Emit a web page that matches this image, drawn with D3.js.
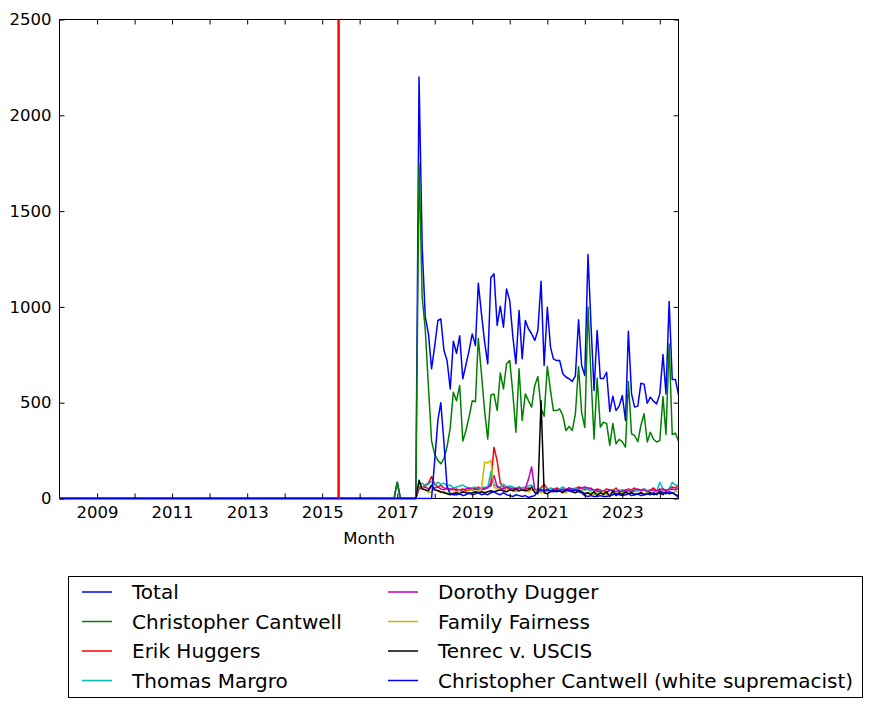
<!DOCTYPE html>
<html>
<head>
<meta charset="utf-8">
<script src="https://cdn.jsdelivr.net/npm/d3@7"></script>
<style>
  body { margin: 0; background: #fff; }
  text { font-family: "DejaVu Sans", sans-serif; fill: #000; }
</style>
</head>
<body>
<svg id="chart" width="873" height="708"></svg>
<script>
// monthly counts, Dec 2016 .. Jul 2024 (every series is 0 from Jan 2008 up to Nov 2016)
var months = d3.timeMonth.range(new Date(2016, 11, 1), new Date(2024, 7, 1));
var flatStart = new Date(2008, 0, 1);
var markerDate = new Date(2015, 5, 10);

var total = [0, 85, 0, 0, 0, 0, 0, 0,
  2200, 1310, 946, 859, 677, 798, 929, 938, 772, 720,
  572, 821, 758, 849, 625, 699, 772, 859, 798, 1124,
  964, 819, 703, 1152, 1173, 903, 1004, 894, 1094, 1033,
  842, 703, 981, 729, 929, 886, 860, 825, 877, 1134,
  694, 998, 790, 729, 720, 720, 651, 634, 625, 611,
  640, 933, 694, 642, 1273, 920, 564, 877, 626, 626,
  659, 454, 534, 459, 482, 538, 407, 873, 546, 477,
  482, 602, 597, 497, 529, 508, 494, 546, 751, 546,
  1028, 621, 621, 541];

var cantwell = [0, 85, 0, 0, 0, 0, 0, 0,
  1750, 1050, 880, 580, 300, 230, 198, 181, 210, 270,
  370, 555, 510, 590, 300, 355, 425, 510, 505, 835,
  650, 460, 310, 540, 545, 460, 655, 572, 703, 720,
  546, 346, 677, 407, 546, 511, 477, 590, 637, 470,
  430, 690, 564, 459, 459, 468, 433, 355, 376, 355,
  440, 688, 450, 370, 1000, 650, 311, 628, 372, 398,
  392, 277, 392, 285, 309, 296, 268, 610, 338, 329,
  296, 381, 442, 295, 346, 309, 295, 302, 532, 334,
  807, 334, 341, 299];

var huggers = [0, 0, 0, 0, 0, 0, 0, 0,
  60, 55, 70, 80, 115, 75, 60, 70, 55, 50,
  45, 55, 40, 45, 50, 40, 45, 55, 50, 60,
  45, 50, 55, 80, 268, 195, 80, 60, 55, 50,
  55, 50, 60, 45, 50, 55, 45, 40, 50, 55,
  75, 50, 40, 45, 55, 50, 40, 45, 55, 45,
  50, 60, 55, 45, 50, 55, 40, 50, 45, 35,
  50, 45, 40, 55, 35, 45, 40, 50, 45, 55,
  40, 45, 50, 40, 45, 55, 40, 50, 45, 40,
  50, 60, 55, 70];

var margro = [0, 0, 0, 0, 0, 0, 0, 0,
  70, 80, 65, 75, 90, 70, 85, 75, 80, 65,
  70, 55, 60, 65, 70, 60, 55, 55, 60, 50,
  55, 60, 55, 140, 70, 65, 60, 75, 60, 65,
  60, 55, 60, 55, 60, 65, 70, 50, 45, 50,
  40, 45, 55, 50, 45, 50, 60, 50, 45, 50,
  55, 45, 40, 55, 45, 40, 45, 35, 40, 30,
  35, 40, 45, 35, 45, 40, 30, 45, 40, 35,
  45, 40, 50, 40, 45, 40, 35, 85, 50, 45,
  50, 85, 70, 65];

var dugger = [0, 0, 0, 0, 0, 0, 0, 0,
  50, 55, 60, 50, 65, 55, 60, 50, 45, 55,
  50, 45, 50, 40, 45, 50, 55, 45, 50, 45,
  55, 50, 60, 65, 120, 60, 55, 50, 60, 55,
  50, 45, 55, 45, 50, 100, 165, 45, 40, 35,
  40, 45, 40, 50, 45, 40, 50, 45, 55, 50,
  45, 50, 55, 60, 55, 50, 45, 40, 35, 40,
  30, 45, 40, 35, 40, 35, 45, 40, 35, 45,
  50, 40, 45, 35, 40, 45, 40, 45, 50, 40,
  45, 50, 45, 55];

var fairness = [0, 0, 0, 0, 0, 0, 0, 0,
  80, 60, 45, 30, 35, 50, 40, 30, 35, 30,
  25, 30, 35, 40, 30, 35, 40, 45, 35, 40,
  50, 190, 185, 200, 60, 50, 45, 40, 50, 45,
  40, 35, 40, 45, 40, 35, 45, 40, 35, 30,
  40, 35, 40, 35, 45, 40, 35, 30, 40, 35,
  30, 40, 35, 25, 30, 35, 20, 30, 25, 35,
  20, 25, 30, 20, 25, 30, 20, 25, 30, 25,
  20, 30, 25, 30, 20, 25, 30, 25, 35, 30,
  25, 30, 35, 40];

var tenrec = [0, 0, 0, 0, 0, 0, 0, 0,
  95, 50, 45, 40, 70, 45, 40, 35, 30, 25,
  20, 25, 30, 25, 35, 30, 25, 30, 35, 30,
  35, 30, 35, 40, 35, 40, 45, 40, 35, 45,
  40, 50, 40, 45, 40, 45, 60, 30, 25, 510,
  30, 25, 35, 40, 35, 40, 30, 45, 40, 35,
  30, 40, 35, 25, 30, 20, 35, 15, 30, 20,
  35, 10, 40, 15, 30, 20, 35, 25, 30, 20,
  25, 30, 20, 25, 30, 20, 25, 30, 20, 35,
  25, 30, 20, 15];

var cantwellWS = [0, 0, 0, 0, 0, 0, 0, 0,
  0, 0, 0, 0, 0, 200, 410, 500, 290, 60,
  25, 20, 20, 25, 15, 20, 30, 20, 25, 30,
  20, 25, 20, 30, 35, 25, 20, 30, 20, 15,
  10, 20, 15, 10, 15, 5, 10, 15, 40, 45,
  40, 45, 40, 35, 45, 40, 35, 40, 45, 40,
  45, 35, 30, 15, 10, 15, 10, 10, 15, 10,
  10, 15, 20, 25, 20, 15, 20, 25, 15, 20,
  25, 15, 20, 25, 20, 30, 20, 40, 30, 25,
  35, 30, 20, 5];

var names = ["Total", "Christopher Cantwell", "Erik Huggers", "Thomas Margro",
  "Dorothy Dugger", "Family Fairness", "Tenrec v. USCIS",
  "Christopher Cantwell (white supremacist)"];
var colors = ["#0000ff", "#008000", "#ff0000", "#00bfbf", "#bf00bf", "#bfbf00", "#000000", "#0000ff"];
var yTicks = [0, 500, 1000, 1500, 2000, 2500];

var series = [total, cantwell, huggers, margro, dugger, fairness, tenrec, cantwellWS].map(function (vals, i) {
  var pts = [{date: flatStart, v: 0}].concat(vals.map(function (v, j) { return {date: months[j], v: v}; }));
  return {name: names[i], color: colors[i], points: pts};
});

var plotL = 59.5, plotR = 678.5, plotT = 19.5, plotB = 498.5;
var svg = d3.select("#chart");

var x = d3.scaleTime().domain([flatStart, months[months.length - 1]]).range([plotL, plotR]);
var y = d3.scaleLinear().domain([0, 2500]).range([plotB, plotT]);

// frame first, so the data lines sit on top of the spines
svg.append("rect")
  .attr("x", plotL).attr("y", plotT).attr("width", plotR - plotL).attr("height", plotB - plotT)
  .attr("fill", "none").attr("stroke", "#000").attr("stroke-width", 1);

svg.append("defs").append("clipPath").attr("id", "clip")
  .append("rect").attr("x", plotL).attr("y", plotT - 1).attr("width", plotR - plotL).attr("height", plotB - plotT + 2);

var line = d3.line().x(function (d) { return x(d.date); }).y(function (d) { return y(d.v); });

var plot = svg.append("g").attr("clip-path", "url(#clip)");
plot.selectAll("path.series").data(series).enter().append("path")
  .attr("class", "series")
  .attr("d", function (d) { return line(d.points); })
  .attr("fill", "none")
  .attr("stroke", function (d) { return d.color; })
  .attr("stroke-width", 1.5)
  .attr("stroke-linejoin", "round");

plot.append("line")
  .attr("x1", x(markerDate)).attr("x2", x(markerDate))
  .attr("y1", plotT).attr("y2", plotB)
  .attr("stroke", "#ff0000").attr("stroke-width", 2.5);

// axes, ticks pointing inward like the classic matplotlib look
var yearTicks = d3.timeYear.range(new Date(2009, 0, 1), new Date(2025, 0, 1));
var fmtYear = function (d) { return d.getFullYear() % 2 === 1 ? d.getFullYear() : ""; };

var gx = svg.append("g").attr("transform", "translate(0," + plotB + ")")
  .call(d3.axisBottom(x).tickValues(yearTicks).tickFormat(fmtYear).tickSizeInner(-5).tickSizeOuter(0).tickPadding(8));
var gxTop = svg.append("g").attr("transform", "translate(0," + plotT + ")")
  .call(d3.axisTop(x).tickValues(yearTicks).tickFormat("").tickSizeInner(-5).tickSizeOuter(0));
var gy = svg.append("g").attr("transform", "translate(" + plotL + ",0)")
  .call(d3.axisLeft(y).tickValues(yTicks).tickFormat(d3.format("d")).tickSizeInner(-5).tickSizeOuter(0).tickPadding(8));
var gyRight = svg.append("g").attr("transform", "translate(" + plotR + ",0)")
  .call(d3.axisRight(y).tickValues(yTicks).tickFormat("").tickSizeInner(-5).tickSizeOuter(0));

[gx, gxTop, gy, gyRight].forEach(function (g) {
  g.select(".domain").remove();
  g.selectAll(".tick line").attr("stroke", "#000");
  g.selectAll("text").attr("font-size", "16.5px").attr("font-family", "DejaVu Sans, sans-serif").attr("fill", "#000");
});

svg.append("text")
  .attr("x", (plotL + plotR) / 2).attr("y", 544)
  .attr("text-anchor", "middle").attr("font-size", "16.5px")
  .text("Month");

// legend, two columns
var legend = svg.append("g");
legend.append("rect")
  .attr("x", 68.5).attr("y", 576.5).attr("width", 794).attr("height", 121)
  .attr("fill", "#fff").attr("stroke", "#000").attr("stroke-width", 1);

var item = legend.selectAll("g.item").data(series).enter().append("g")
  .attr("class", "item")
  .attr("transform", function (d, i) {
    var col = Math.floor(i / 4), row = i % 4;
    return "translate(" + (82 + col * 306) + "," + (592 + row * 29.5) + ")";
  });
item.append("line")
  .attr("x1", 0).attr("x2", 30).attr("y1", 0).attr("y2", 0)
  .attr("stroke", function (d) { return d.color; }).attr("stroke-width", 1.5);
item.append("text")
  .attr("x", 50).attr("y", 0).attr("dy", "0.36em")
  .attr("font-size", "20px")
  .text(function (d) { return d.name; });
</script>
</body>
</html>
